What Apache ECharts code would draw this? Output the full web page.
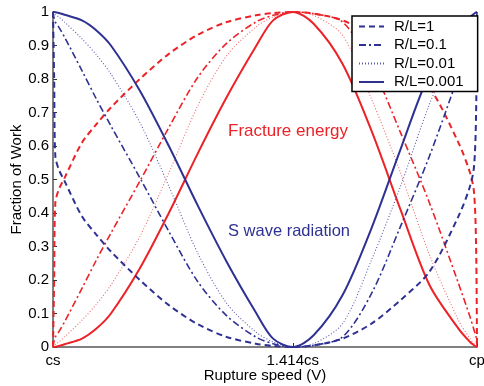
<!DOCTYPE html>
<html>
<head>
<meta charset="utf-8">
<script src="https://cdn.jsdelivr.net/npm/echarts@6/dist/echarts.min.js"></script>
<style>
html,body{margin:0;padding:0;background:#fff;}
#chart{width:484px;height:386px;}
</style>
</head>
<body>
<div id="chart"></div>
<script>
// rupture speed, cs = 1, cp = sqrt(3)
var speed = [1, 1.002, 1.004, 1.01, 1.02, 1.05, 1.075, 1.1, 1.15, 1.2, 1.25, 1.3, 1.35, 1.38, 1.414,
             1.45, 1.5, 1.55, 1.6, 1.65, 1.7, 1.72, 1.727, 1.7305, 1.7320508];
var tickValues = [1, 1.414, 1.7320508];
var tickNames = ['cs', '1.414cs', 'cp'];
var legendNames = ['R/L=1', 'R/L=0.1', 'R/L=0.01', 'R/L=0.001'];

// fracture energy (red)
var fe1    = [0, 0.2, 0.43, 0.47, 0.505, 0.61, 0.665, 0.715, 0.8, 0.875, 0.932, 0.97, 0.99, 0.997, 1,
              0.995, 0.975, 0.93, 0.86, 0.775, 0.61, 0.52, 0.46, 0.3, 0];
var fe01   = [0, 0.02, 0.03, 0.045, 0.075, 0.175, 0.26, 0.34, 0.495, 0.655, 0.805, 0.907, 0.97, 0.99, 1,
              0.995, 0.97, 0.84, 0.64, 0.43, 0.19, 0.09, 0.05, 0.03, 0];
var fe001  = [0, 0.005, 0.008, 0.015, 0.03, 0.08, 0.128, 0.185, 0.33, 0.52, 0.72, 0.87, 0.955, 0.985, 1,
              0.99, 0.93, 0.74, 0.52, 0.275, 0.08, 0.025, 0.01, 0.004, 0];
var fe0001 = [0, 0, 0.001, 0.003, 0.008, 0.025, 0.055, 0.1, 0.235, 0.4, 0.578, 0.746, 0.896, 0.975, 1,
              0.965, 0.845, 0.645, 0.41, 0.185, 0.055, 0.015, 0.005, 0.001, 0];

// S wave radiation (blue)
var sw1    = [1, 0.8, 0.57, 0.53, 0.495, 0.39, 0.335, 0.285, 0.2, 0.125, 0.068, 0.03, 0.01, 0.003, 0,
              0.005, 0.025, 0.07, 0.14, 0.225, 0.39, 0.48, 0.54, 0.7, 1];
var sw01   = [1, 0.98, 0.97, 0.955, 0.925, 0.825, 0.74, 0.66, 0.505, 0.345, 0.195, 0.093, 0.03, 0.01, 0,
              0.005, 0.03, 0.16, 0.36, 0.57, 0.81, 0.91, 0.95, 0.97, 1];
var sw001  = [1, 0.995, 0.992, 0.985, 0.97, 0.92, 0.872, 0.815, 0.67, 0.48, 0.28, 0.13, 0.045, 0.015, 0,
              0.01, 0.07, 0.26, 0.48, 0.725, 0.92, 0.975, 0.99, 0.996, 1];
var sw0001 = [1, 1, 0.999, 0.997, 0.992, 0.975, 0.945, 0.9, 0.765, 0.6, 0.422, 0.254, 0.104, 0.025, 0,
              0.035, 0.155, 0.355, 0.59, 0.815, 0.945, 0.985, 0.995, 0.999, 1];

var RED = '#ec2227';
var BLUE = '#2e3192';
var FONT = 'Liberation Sans, Arial, sans-serif';

function pairs(ys) {
    var out = [];
    for (var i = 0; i < speed.length; i++) {
        out.push([speed[i], ys[i]]);
    }
    return out;
}

// dash styles: dashed, dash-dot, dotted, solid
var styles = [
    {type: [6, 4], width: 2},
    {type: [7, 3, 2, 3], width: 1.6},
    {type: [1, 2], width: 1.1},
    {type: 'solid', width: 2}
];

function line(name, ys, color, st) {
    return {
        name: name,
        type: 'line',
        data: pairs(ys),
        symbol: 'none',
        smooth: 0.3,
        clip: false,
        lineStyle: {color: color, width: st.width, type: st.type},
        itemStyle: {color: color}
    };
}

var series = [
    line('fe1', fe1, RED, styles[0]),
    line('fe01', fe01, RED, styles[1]),
    line('fe001', fe001, '#f06a6e', styles[2]),
    line('fe0001', fe0001, RED, styles[3]),
    line(legendNames[0], sw1, BLUE, styles[0]),
    line(legendNames[1], sw01, BLUE, styles[1]),
    line(legendNames[2], sw001, '#5a5db0', styles[2]),
    line(legendNames[3], sw0001, BLUE, styles[3])
];

var chart = echarts.init(document.getElementById('chart'), null, {renderer: 'canvas'});
chart.setOption({
    animation: false,
    backgroundColor: '#fff',
    textStyle: {fontFamily: FONT},
    grid: {left: 53, right: 7, top: 12, bottom: 39, outerBoundsMode: 'none', containLabel: false},
    legend: {
        data: legendNames,
        orient: 'vertical',
        left: 352,
        top: 16,
        padding: [3, 14, 2, 6],
        itemWidth: 25,
        itemHeight: 14,
        itemGap: 3.5,
        itemStyle: {opacity: 0},
        backgroundColor: '#fff',
        borderColor: '#000',
        borderWidth: 1.5,
        borderRadius: 0,
        textStyle: {fontFamily: FONT, fontSize: 15, color: '#000', padding: [0, 0, 0, 5]}
    },
    xAxis: {
        type: 'value',
        min: 1,
        max: 1.7320508,
        name: 'Rupture speed (V)',
        nameLocation: 'middle',
        nameGap: 21,
        nameMoveOverlap: false,
        nameTextStyle: {fontFamily: FONT, fontSize: 15, color: '#000', verticalAlign: 'top'},
        axisLine: {lineStyle: {color: '#808080', width: 2}},
        axisTick: {inside: true, length: 4, customValues: tickValues, lineStyle: {color: '#333'}},
        axisLabel: {
            customValues: tickValues,
            margin: 6,
            fontFamily: FONT,
            fontSize: 15,
            color: '#000',
            formatter: function (v) {
                for (var i = 0; i < tickValues.length; i++) {
                    if (Math.abs(v - tickValues[i]) < 1e-4) return tickNames[i];
                }
                return '';
            }
        },
        splitLine: {show: false}
    },
    yAxis: {
        type: 'value',
        min: 0,
        max: 1,
        interval: 0.1,
        name: 'Fraction of Work',
        nameLocation: 'middle',
        nameGap: 29,
        nameMoveOverlap: false,
        nameTextStyle: {fontFamily: FONT, fontSize: 15, color: '#000'},
        axisLine: {show: true, lineStyle: {color: '#808080', width: 2}},
        axisTick: {show: true, inside: true, length: 4, lineStyle: {color: '#333'}},
        axisLabel: {margin: 4, fontFamily: FONT, fontSize: 15, color: '#000'},
        splitLine: {show: false}
    },
    graphic: [
        {type: 'text', left: 228, top: 123,
         style: {text: 'Fracture energy', fill: RED, font: '17px ' + FONT}},
        {type: 'text', left: 228, top: 223,
         style: {text: 'S wave radiation', fill: BLUE, font: '16.5px ' + FONT}}
    ],
    series: series
});
</script>
</body>
</html>
